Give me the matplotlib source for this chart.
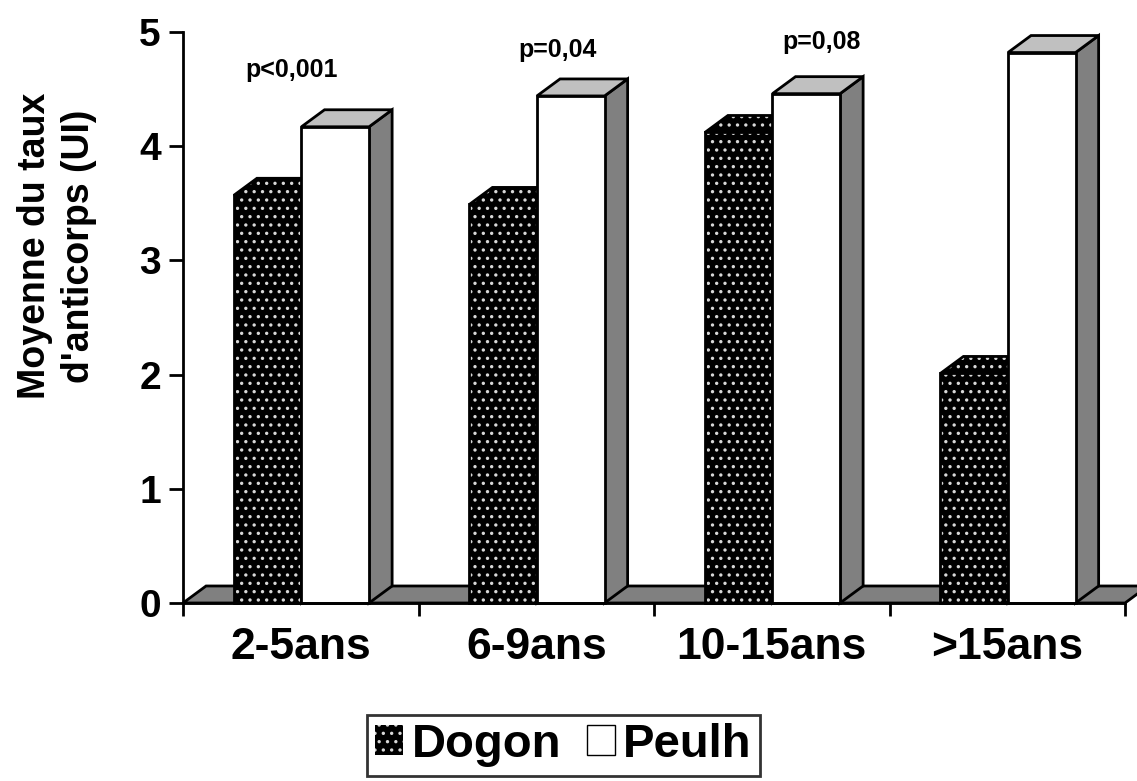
""" 3D-style grouped bar chart: mean antibody level by age group, Dogon vs Peulh. """

import matplotlib
matplotlib.use("Agg")
import matplotlib.pyplot as plt
from matplotlib.patches import Polygon, Patch

plt.rcParams['font.family'] = ['Liberation Sans', 'DejaVu Sans']
plt.rcParams['font.weight'] = 'bold'
plt.rcParams['hatch.linewidth'] = 1.2

""" DATA """
categories = ["2-5ans", "6-9ans", "10-15ans", ">15ans"]
dogon = [3.57, 3.49, 4.12, 2.01]
peulh = [4.17, 4.44, 4.46, 4.82]
p_labels = ["p<0,001", "p=0,04", "p=0,08"]
p_x = [0.46, 1.59, 2.71]
p_y = [4.67, 4.84, 4.91]

""" STYLE """
DX, DY = 0.098, 0.149      # depth offset of the 3D faces (data units)
W = 0.287                  # bar width
START = 0.216              # offset of first bar inside a category
GRAY = "#808080"
LIGHT = "#c0c0c0"
LW = 2


def face(ax, pts, fc, hatch=None, z=2):
    if hatch:
        ax.add_patch(Polygon(pts, closed=True, facecolor=fc, edgecolor="#d8d8d8",
                             hatch=hatch, lw=0, zorder=z, clip_on=False))
        ax.add_patch(Polygon(pts, closed=True, facecolor="none", edgecolor="black",
                             lw=LW, zorder=z, clip_on=False, joinstyle="miter"))
    else:
        ax.add_patch(Polygon(pts, closed=True, facecolor=fc, edgecolor="black",
                             lw=LW, zorder=z, clip_on=False, joinstyle="miter"))


def bar3d(ax, x0, h, front, top, side, hatch=None, z=2):
    x1 = x0 + W
    face(ax, [(x1, 0), (x1 + DX, DY), (x1 + DX, h + DY), (x1, h)], side, hatch, z)
    face(ax, [(x0, h), (x1, h), (x1 + DX, h + DY), (x0 + DX, h + DY)], top, hatch, z)
    face(ax, [(x0, 0), (x1, 0), (x1, h), (x0, h)], front, hatch, z)


fig = plt.figure(figsize=(11.37, 7.81), dpi=100)
ax = fig.add_axes([183 / 1137, 178 / 781, 942 / 1137, 571 / 781])
ax.set_xlim(0, 4)
ax.set_ylim(0, 5)

# floor
n = len(categories)
face(ax, [(0, 0), (n, 0), (n + DX, DY), (DX, DY)], GRAY, z=1)

for i in range(n):
    bar3d(ax, i + START, dogon[i], "black", "black", "black", hatch="..", z=2 + i)
    bar3d(ax, i + START + W, peulh[i], "white", LIGHT, GRAY, z=2 + i)

for lab, x, y in zip(p_labels, p_x, p_y):
    ax.text(x, y, lab, ha="center", va="center", fontsize=18, fontweight="bold")

# axes
for s in ("top", "right"):
    ax.spines[s].set_visible(False)
for s in ("left", "bottom"):
    ax.spines[s].set_linewidth(LW)
    ax.spines[s].set_zorder(20)
ax.set_yticks(range(6))
ax.tick_params(axis="y", length=10, width=LW, pad=6, labelsize=28)
ax.set_xticks(range(n + 1))
ax.set_xticklabels([])
ax.tick_params(axis="x", which="major", length=9, width=LW)
ax.set_xticks([i + 0.5 for i in range(n)], minor=True)
ax.set_xticklabels(categories, minor=True, fontsize=32, fontweight="bold")
ax.tick_params(axis="x", which="minor", length=0, pad=17)
for t in ax.get_yticklabels():
    t.set_fontweight("bold")

fig.text(57 / 1137, 1 - 246 / 781, "Moyenne du taux\nd'anticorps (UI)", rotation=90,
         ha="center", va="center", fontsize=27, fontweight="bold",
         multialignment="center", linespacing=1.3)

handles = [Patch(facecolor="black", edgecolor="#d8d8d8", hatch="..", lw=0),
           Patch(facecolor="white", edgecolor="black", lw=1)]
leg = fig.legend(handles, ["Dogon", "Peulh"], loc="center", bbox_to_anchor=(0.4955, 0.046),
                 ncol=2, fontsize=34, frameon=True, fancybox=False, edgecolor="black",
                 handlelength=0.6, handleheight=0.6, handletextpad=0.17,
                 columnspacing=0.55, borderpad=0.18, borderaxespad=0)
leg.get_frame().set_linewidth(LW)
for t in leg.get_texts():
    t.set_fontweight("bold")

fig.savefig("out.png", dpi=100)
